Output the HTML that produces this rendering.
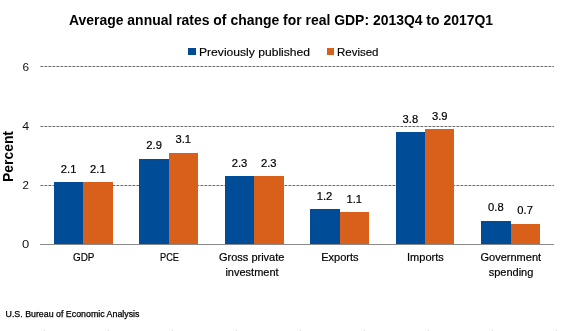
<!DOCTYPE html>
<html><head><meta charset="utf-8">
<style>
html,body{margin:0;padding:0;background:#fff;width:566px;height:331px;overflow:hidden}
svg{display:block;will-change:transform}
text{font-family:"Liberation Sans",sans-serif}
</style></head>
<body>
<svg width="566" height="331" viewBox="0 0 566 331">
<rect width="566" height="331" fill="#fff"/>
<!-- title -->
<text x="69" y="25" font-size="14" font-weight="bold" fill="#000" textLength="424" lengthAdjust="spacingAndGlyphs">Average annual rates of change for real GDP: 2013Q4 to 2017Q1</text>
<!-- legend -->
<rect x="188" y="48" width="8" height="7" fill="#004C97"/>
<text x="199" y="56" font-size="11" fill="#000" stroke="#000" stroke-width="0.15" textLength="111" lengthAdjust="spacingAndGlyphs">Previously published</text>
<rect x="327" y="48" width="7" height="7" fill="#D9601A"/>
<text x="337" y="56" font-size="11" fill="#000" stroke="#000" stroke-width="0.15" textLength="41.5" lengthAdjust="spacingAndGlyphs">Revised</text>
<!-- gridlines -->
<defs>
<pattern id="dash" x="40" y="0" width="4" height="331" patternUnits="userSpaceOnUse">
<rect x="0" y="0" width="1" height="331" fill="#a8a8a8"/>
<rect x="1" y="0" width="2" height="331" fill="#686868"/>
<rect x="3" y="0" width="1" height="331" fill="#d8d8d8"/>
</pattern>
</defs>
<g fill="url(#dash)" shape-rendering="crispEdges">
<rect x="40" y="66" width="514" height="1"/>
<rect x="40" y="126" width="514" height="1"/>
<rect x="40" y="185" width="514" height="1"/>
</g>
<!-- y tick labels -->
<g font-size="11.2" fill="#111" text-anchor="end">
<text x="29" y="71" textLength="6.6" lengthAdjust="spacingAndGlyphs">6</text>
<text x="29.2" y="130" textLength="6.9" lengthAdjust="spacingAndGlyphs">4</text>
<text x="29" y="189" textLength="6.4" lengthAdjust="spacingAndGlyphs">2</text>
<text x="29.3" y="248" textLength="7.2" lengthAdjust="spacingAndGlyphs">0</text>
</g>
<!-- y axis title -->
<text transform="translate(12.9,156.5) rotate(-90)" x="0" y="0" text-anchor="middle" font-size="14" font-weight="bold" fill="#000" textLength="51" lengthAdjust="spacingAndGlyphs">Percent</text>
<!-- bars -->
<g shape-rendering="crispEdges">
<rect x="54" y="182" width="29" height="62" fill="#004C97"/>
<rect x="83" y="182" width="30" height="62" fill="#D9601A"/>
<rect x="139" y="159" width="30" height="85" fill="#004C97"/>
<rect x="169" y="153" width="29" height="91" fill="#D9601A"/>
<rect x="225" y="176" width="29" height="68" fill="#004C97"/>
<rect x="254" y="176" width="30" height="68" fill="#D9601A"/>
<rect x="310" y="209" width="30" height="35" fill="#004C97"/>
<rect x="340" y="212" width="29" height="32" fill="#D9601A"/>
<rect x="396" y="132" width="29" height="112" fill="#004C97"/>
<rect x="425" y="129" width="29" height="115" fill="#D9601A"/>
<rect x="481" y="221" width="30" height="23" fill="#004C97"/>
<rect x="511" y="224" width="29" height="20" fill="#D9601A"/>
</g>
<!-- axis -->
<rect x="40" y="244" width="514" height="1" fill="#8a8a8a" shape-rendering="crispEdges"/>
<!-- data labels -->
<g font-size="11.2" fill="#000" stroke="#000" stroke-width="0.2" text-anchor="middle">
<text x="68.6" y="173">2.1</text>
<text x="97.9" y="173">2.1</text>
<text x="154.1" y="149">2.9</text>
<text x="183.3" y="143">3.1</text>
<text x="239.5" y="167">2.3</text>
<text x="268.8" y="167">2.3</text>
<text x="324.5" y="200">1.2</text>
<text x="354.3" y="203">1.1</text>
<text x="410.4" y="123">3.8</text>
<text x="439.7" y="120">3.9</text>
<text x="495.9" y="211">0.8</text>
<text x="525.1" y="214">0.7</text>
</g>
<!-- category labels -->
<g font-size="11" fill="#000" stroke="#000" stroke-width="0.2" text-anchor="middle">
<text x="83.7" y="261" textLength="21.5" lengthAdjust="spacingAndGlyphs" text-anchor="middle">GDP</text>
<text x="169.5" y="261" textLength="19" lengthAdjust="spacingAndGlyphs">PCE</text>
<text x="251.7" y="261">Gross private</text>
<text x="252" y="276">investment</text>
<text x="339.9" y="261">Exports</text>
<text x="425.4" y="261">Imports</text>
<text x="510.8" y="261">Government</text>
<text x="511" y="276">spending</text>
</g>
<!-- source -->
<text x="5.5" y="317" font-size="8.4" fill="#000" stroke="#000" stroke-width="0.25" textLength="134" lengthAdjust="spacingAndGlyphs">U.S. Bureau of Economic Analysis</text>
<!-- faint ticks at bottom -->
<g fill="#d4d4d4">
<rect x="44" y="330" width="1" height="1"/><rect x="108" y="330" width="1" height="1"/><rect x="172" y="330" width="1" height="1"/>
<rect x="236" y="330" width="1" height="1"/><rect x="300" y="330" width="1" height="1"/><rect x="364" y="330" width="1" height="1"/>
<rect x="428" y="330" width="1" height="1"/><rect x="492" y="330" width="1" height="1"/><rect x="556" y="330" width="1" height="1"/>
</g>
</svg>
</body></html>
